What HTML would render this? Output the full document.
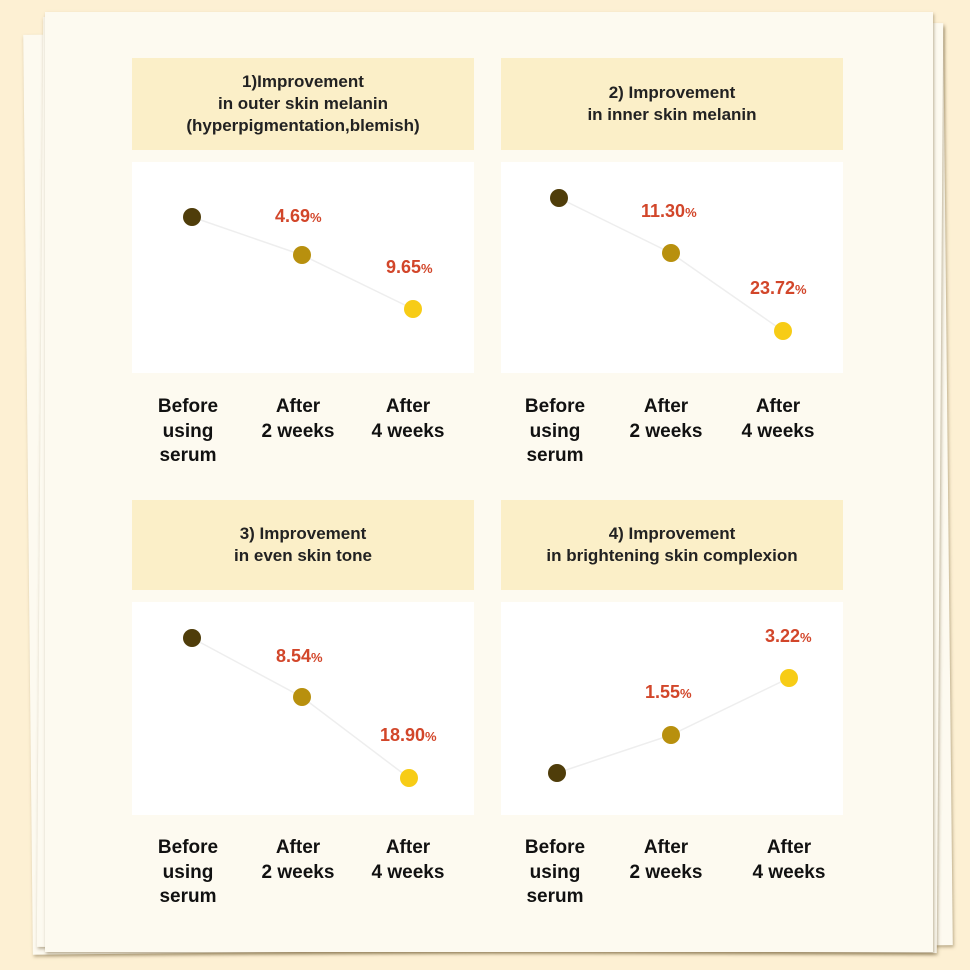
<!DOCTYPE html>
<html><head><meta charset="utf-8"><style>
html,body{margin:0;padding:0}
body{width:970px;height:970px;background:#fdf0d3;position:relative;overflow:hidden;font-family:"Liberation Sans",sans-serif}
.p{position:absolute;background:#fdfaf0;box-shadow:1px 2px 3px rgba(120,100,60,.5)}
.t{position:absolute;background:#fbefc8;text-align:center;font-weight:bold;font-size:17px;color:#222;line-height:22px;display:flex;align-items:center;justify-content:center}
.c{position:absolute;background:#fff}
.l{position:absolute;text-align:center;font-weight:bold;font-size:19px;color:#111;line-height:24.5px;width:120px}
svg{position:absolute;left:0;top:0}
.v{font-family:"Liberation Sans",sans-serif;font-weight:bold;font-size:18px;fill:#d2462a}
.v tspan{font-size:13px}
</style></head><body>
<div class="p" style="left:28px;top:30px;width:920px;height:920px;transform:rotate(-0.6deg)"></div>
<div class="p" style="left:40px;top:20px;width:900px;height:930px;transform:rotate(0.4deg)"></div>
<div class="p" style="left:45px;top:12px;width:888px;height:940px"></div>

<div class="t" style="left:132px;top:58px;width:342px;height:92px">1)Improvement<br>in outer skin melanin<br>(hyperpigmentation,blemish)</div>
<div class="t" style="left:501px;top:58px;width:342px;height:92px">2) Improvement<br>in inner skin melanin</div>
<div class="t" style="left:132px;top:500px;width:342px;height:90px">3) Improvement<br>in even skin tone</div>
<div class="t" style="left:501px;top:500px;width:342px;height:90px">4) Improvement<br>in brightening skin complexion</div>

<div class="c" style="left:132px;top:162px;width:342px;height:211px"></div>
<div class="c" style="left:501px;top:162px;width:342px;height:211px"></div>
<div class="c" style="left:132px;top:602px;width:342px;height:213px"></div>
<div class="c" style="left:501px;top:602px;width:342px;height:213px"></div>

<svg width="970" height="970">
<g stroke="#eee" stroke-width="1.5" fill="none">
<polyline points="192,217 302,255 413,309"/>
<polyline points="559,198 671,253 783,331"/>
<polyline points="192,638 302,697 409,778"/>
<polyline points="557,773 671,735 789,678"/>
</g>
<g>
<circle cx="192" cy="217" r="9" fill="#4f3d0a"/><circle cx="302" cy="255" r="9" fill="#b8900e"/><circle cx="413" cy="309" r="9" fill="#f7cc16"/>
<circle cx="559" cy="198" r="9" fill="#4f3d0a"/><circle cx="671" cy="253" r="9" fill="#b8900e"/><circle cx="783" cy="331" r="9" fill="#f7cc16"/>
<circle cx="192" cy="638" r="9" fill="#4f3d0a"/><circle cx="302" cy="697" r="9" fill="#b8900e"/><circle cx="409" cy="778" r="9" fill="#f7cc16"/>
<circle cx="557" cy="773" r="9" fill="#4f3d0a"/><circle cx="671" cy="735" r="9" fill="#b8900e"/><circle cx="789" cy="678" r="9" fill="#f7cc16"/>
</g>
<text class="v" x="275" y="222">4.69<tspan>%</tspan></text>
<text class="v" x="386" y="273">9.65<tspan>%</tspan></text>
<text class="v" x="641" y="217">11.30<tspan>%</tspan></text>
<text class="v" x="750" y="294">23.72<tspan>%</tspan></text>
<text class="v" x="276" y="662">8.54<tspan>%</tspan></text>
<text class="v" x="380" y="741">18.90<tspan>%</tspan></text>
<text class="v" x="645" y="698">1.55<tspan>%</tspan></text>
<text class="v" x="765" y="642">3.22<tspan>%</tspan></text>
</svg>

<div class="l" style="left:128px;top:395px">Before<br>using<br>serum</div>
<div class="l" style="left:238px;top:395px">After<br>2 weeks</div>
<div class="l" style="left:348px;top:395px">After<br>4 weeks</div>
<div class="l" style="left:495px;top:395px">Before<br>using<br>serum</div>
<div class="l" style="left:606px;top:395px">After<br>2 weeks</div>
<div class="l" style="left:718px;top:395px">After<br>4 weeks</div>
<div class="l" style="left:128px;top:836px">Before<br>using<br>serum</div>
<div class="l" style="left:238px;top:836px">After<br>2 weeks</div>
<div class="l" style="left:348px;top:836px">After<br>4 weeks</div>
<div class="l" style="left:495px;top:836px">Before<br>using<br>serum</div>
<div class="l" style="left:606px;top:836px">After<br>2 weeks</div>
<div class="l" style="left:729px;top:836px">After<br>4 weeks</div>
</body></html>
